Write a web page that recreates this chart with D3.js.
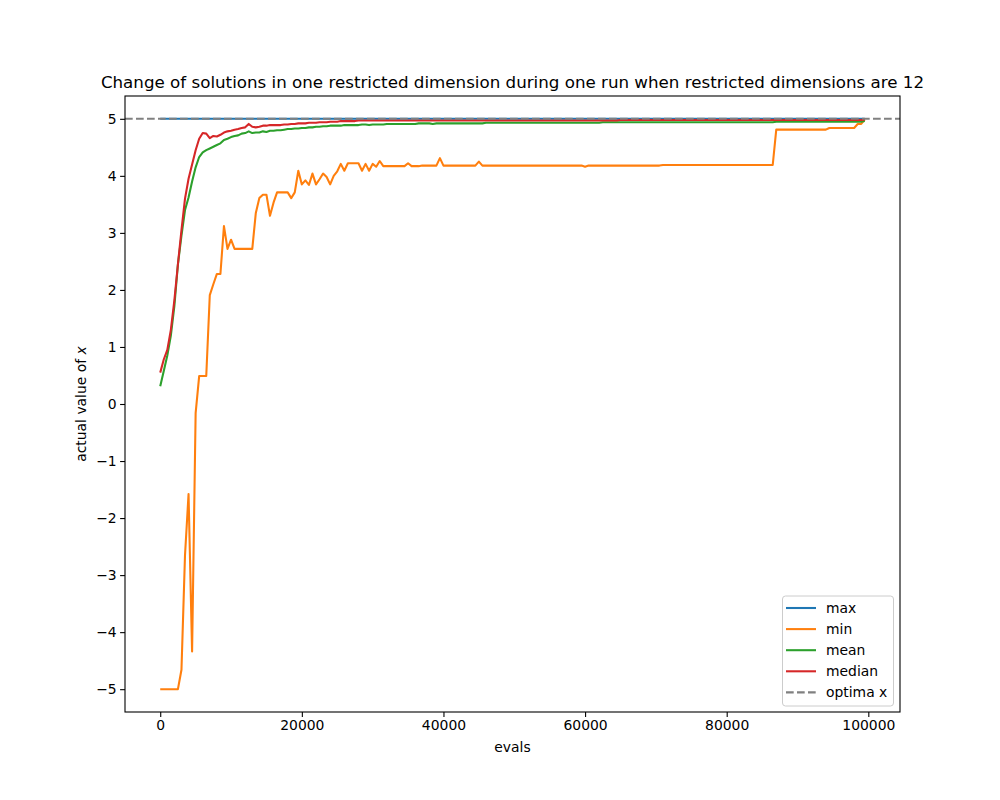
<!DOCTYPE html>
<html>
<head>
<meta charset="utf-8">
<script src="https://cdn.jsdelivr.net/npm/d3@7"></script>
<style>
  body { margin: 0; background: #fff; }
  svg { font-family: "DejaVu Sans", sans-serif; }
</style>
</head>
<body>
<svg id="viz" width="1000" height="800"></svg>
<script>
// evals sampled every 500 steps (200 points)
const evalStep = 500;
const seriesNames = ['max', 'min', 'mean', 'median'];
const seriesColors = ['#1f77b4', '#ff7f0e', '#2ca02c', '#d62728'];
const optimaX = 5;

const maxValues = [
  5, 5, 5, 5, 5, 5, 5, 5, 5, 5, 5, 5, 5, 5, 5, 5, 5, 5, 5, 5,
  5, 5, 5, 5, 5, 5, 5, 5, 5, 5, 5, 5, 5, 5, 5, 5, 5, 5, 5, 5,
  5, 5, 5, 5, 5, 5, 5, 5, 5, 5, 5, 5, 5, 5, 5, 5, 5, 5, 5, 5,
  5, 5, 5, 5, 5, 5, 5, 5, 5, 5, 5, 5, 5, 5, 5, 5, 5, 5, 5, 5,
  5, 5, 5, 5, 5, 5, 5, 5, 5, 5, 5, 5, 5, 5, 5, 5, 5, 5, 5, 5,
  5, 5, 5, 5, 5, 5, 5, 5, 5, 5, 5, 5, 5, 5, 5, 5, 5, 5, 5, 5,
  5, 5, 5, 5, 5, 5, 5, 5, 5, 5, 5, 5, 5, 5, 5, 5, 5, 5, 5, 5,
  5, 5, 5, 5, 5, 5, 5, 5, 5, 5, 5, 5, 5, 5, 5, 5, 5, 5, 5, 5,
  5, 5, 5, 5, 5, 5, 5, 5, 5, 5, 5, 5, 5, 5, 5, 5, 5, 5, 5, 5,
  5, 5, 5, 5, 5, 5, 5, 5, 5, 5, 5, 5, 5, 5, 5, 5, 5, 5, 5, 5
];

const minValues = [
  -5, -5, -5, -5, -5, -5, -4.66, -2.65, -1.58, -4.34,
  -0.16, 0.49, 0.49, 0.49, 1.91, 2.1, 2.28, 2.28, 3.12, 2.72,
  2.88, 2.72, 2.72, 2.72, 2.72, 2.72, 2.72, 3.35, 3.61, 3.67,
  3.67, 3.30, 3.53, 3.71, 3.71, 3.71, 3.71, 3.61, 3.71, 4.09,
  3.85, 3.92, 3.84, 4.04, 3.85, 3.94, 4.04, 3.98, 3.85, 4.00,
  4.08, 4.21, 4.09, 4.22, 4.22, 4.22, 4.22, 4.09, 4.21, 4.09,
  4.21, 4.16, 4.26, 4.17, 4.17, 4.17, 4.17, 4.17, 4.17, 4.17,
  4.22, 4.17, 4.17, 4.17, 4.18, 4.18, 4.18, 4.18, 4.18, 4.31,
  4.18, 4.18, 4.18, 4.18, 4.18, 4.18, 4.18, 4.18, 4.18, 4.18,
  4.25, 4.18, 4.18, 4.18, 4.18, 4.18, 4.18, 4.18, 4.18, 4.18,
  4.18, 4.18, 4.18, 4.18, 4.18, 4.18, 4.18, 4.18, 4.18, 4.18,
  4.18, 4.18, 4.18, 4.18, 4.18, 4.18, 4.18, 4.18, 4.18, 4.18,
  4.16, 4.18, 4.18, 4.18, 4.18, 4.18, 4.18, 4.18, 4.18, 4.18,
  4.18, 4.18, 4.18, 4.18, 4.18, 4.18, 4.18, 4.18, 4.18, 4.18,
  4.18, 4.18, 4.19, 4.19, 4.19, 4.19, 4.19, 4.19, 4.19, 4.19,
  4.19, 4.19, 4.19, 4.19, 4.19, 4.19, 4.19, 4.19, 4.19, 4.19,
  4.19, 4.19, 4.19, 4.19, 4.19, 4.19, 4.19, 4.19, 4.19, 4.19,
  4.19, 4.19, 4.19, 4.19, 4.81, 4.81, 4.81, 4.81, 4.81, 4.81,
  4.81, 4.81, 4.81, 4.81, 4.81, 4.81, 4.81, 4.81, 4.81, 4.84,
  4.84, 4.84, 4.84, 4.84, 4.84, 4.84, 4.84, 4.91, 4.91, 4.99
];

const meanValues = [
  0.31, 0.58, 0.85, 1.2, 1.72, 2.45, 2.95, 3.4, 3.62, 3.9,
  4.15, 4.33, 4.41, 4.45, 4.48, 4.51, 4.54, 4.57, 4.63, 4.65,
  4.68, 4.70, 4.71, 4.74, 4.75, 4.78, 4.75, 4.76, 4.76, 4.78,
  4.77, 4.79, 4.79, 4.80, 4.80, 4.81, 4.82, 4.82, 4.83, 4.83,
  4.84, 4.84, 4.85, 4.85, 4.86, 4.86, 4.87, 4.87, 4.88, 4.88,
  4.88, 4.88, 4.89, 4.89, 4.89, 4.89, 4.89, 4.90, 4.90, 4.89,
  4.90, 4.90, 4.90, 4.90, 4.91, 4.91, 4.91, 4.91, 4.91, 4.91,
  4.91, 4.91, 4.91, 4.92, 4.92, 4.92, 4.92, 4.91, 4.92, 4.92,
  4.92, 4.92, 4.92, 4.92, 4.92, 4.92, 4.92, 4.92, 4.92, 4.92,
  4.92, 4.92, 4.93, 4.93, 4.93, 4.93, 4.93, 4.93, 4.93, 4.93,
  4.93, 4.93, 4.93, 4.93, 4.93, 4.93, 4.93, 4.93, 4.93, 4.93,
  4.93, 4.93, 4.93, 4.93, 4.93, 4.93, 4.93, 4.93, 4.93, 4.93,
  4.93, 4.93, 4.93, 4.93, 4.93, 4.94, 4.94, 4.94, 4.94, 4.94,
  4.94, 4.94, 4.94, 4.94, 4.94, 4.94, 4.94, 4.94, 4.94, 4.94,
  4.94, 4.94, 4.94, 4.94, 4.94, 4.94, 4.94, 4.94, 4.94, 4.94,
  4.94, 4.94, 4.94, 4.94, 4.94, 4.94, 4.94, 4.94, 4.94, 4.94,
  4.94, 4.94, 4.94, 4.94, 4.94, 4.94, 4.94, 4.94, 4.94, 4.94,
  4.94, 4.94, 4.94, 4.94, 4.95, 4.95, 4.95, 4.95, 4.95, 4.95,
  4.95, 4.95, 4.95, 4.95, 4.95, 4.95, 4.95, 4.95, 4.95, 4.95,
  4.95, 4.95, 4.95, 4.95, 4.95, 4.95, 4.95, 4.95, 4.95, 4.96
];

const medianValues = [
  0.55, 0.78, 0.95, 1.3, 1.82, 2.45, 3.05, 3.6, 3.95, 4.2,
  4.45, 4.65, 4.75, 4.74, 4.66, 4.70, 4.69, 4.72, 4.76, 4.78,
  4.79, 4.81, 4.82, 4.84, 4.85, 4.91, 4.86, 4.85, 4.86, 4.88,
  4.88, 4.89, 4.89, 4.89, 4.89, 4.90, 4.90, 4.91, 4.91, 4.92,
  4.92, 4.92, 4.93, 4.93, 4.93, 4.94, 4.94, 4.94, 4.95, 4.95,
  4.95, 4.96, 4.96, 4.96, 4.96, 4.96, 4.97, 4.97, 4.97, 4.97,
  4.97, 4.97, 4.97, 4.97, 4.97, 4.97, 4.97, 4.97, 4.97, 4.97,
  4.97, 4.97, 4.97, 4.97, 4.97, 4.97, 4.97, 4.97, 4.97, 4.97,
  4.97, 4.97, 4.97, 4.97, 4.97, 4.97, 4.97, 4.97, 4.97, 4.97,
  4.97, 4.97, 4.97, 4.97, 4.97, 4.97, 4.97, 4.97, 4.97, 4.97,
  4.97, 4.97, 4.97, 4.97, 4.97, 4.97, 4.97, 4.97, 4.97, 4.97,
  4.97, 4.97, 4.97, 4.97, 4.97, 4.97, 4.97, 4.97, 4.97, 4.97,
  4.97, 4.97, 4.97, 4.97, 4.97, 4.97, 4.97, 4.97, 4.97, 4.97,
  4.98, 4.98, 4.98, 4.98, 4.98, 4.98, 4.98, 4.98, 4.98, 4.98,
  4.98, 4.98, 4.98, 4.98, 4.98, 4.98, 4.98, 4.98, 4.98, 4.98,
  4.98, 4.98, 4.98, 4.98, 4.98, 4.98, 4.98, 4.98, 4.98, 4.98,
  4.98, 4.98, 4.98, 4.98, 4.98, 4.98, 4.98, 4.98, 4.98, 4.98,
  4.98, 4.98, 4.98, 4.98, 4.98, 4.98, 4.98, 4.98, 4.98, 4.98,
  4.98, 4.98, 4.98, 4.98, 4.98, 4.98, 4.98, 4.98, 4.98, 4.98,
  4.98, 4.98, 4.98, 4.98, 4.98, 4.98, 4.98, 4.98, 4.98, 4.99
];

const xTicks = [0, 20000, 40000, 60000, 80000, 100000];
const yTicks = [-5, -4, -3, -2, -1, 0, 1, 2, 3, 4, 5];
const legendLabels = ['max', 'min', 'mean', 'median', 'optima x'];

document.addEventListener('DOMContentLoaded', () => {
  const svg = d3.select('#viz');
  const margin = { left: 125, right: 900, top: 96, bottom: 712 };

  const allSeries = [maxValues, minValues, meanValues, medianValues];
  const evals = maxValues.map((d, i) => i * evalStep);

  const x = d3.scaleLinear().domain([-4975, 104475]).range([margin.left, margin.right]);
  const y = d3.scaleLinear().domain([-5.4, 5.4]).range([margin.bottom, margin.top]);

  // Axes
  const xAxis = svg.append('g').attr('transform', `translate(0,${margin.bottom})`)
    .call(d3.axisBottom(x).tickValues(xTicks).tickFormat(d3.format('d')).tickSizeOuter(0).tickSize(4.9).tickPadding(3.5));
  const yAxis = svg.append('g').attr('transform', `translate(${margin.left},0)`)
    .call(d3.axisLeft(y).tickValues(yTicks).tickFormat(d => d < 0 ? '\u2212' + Math.abs(d) : d).tickSizeOuter(0).tickSize(4.9).tickPadding(3.5));

  [xAxis, yAxis].forEach(a => {
    a.select('.domain').remove();
    a.selectAll('line').attr('stroke', '#000').attr('stroke-width', 1.1);
    a.selectAll('text').style('font-size', '13.9px').style('font-family', '"DejaVu Sans"').attr('fill', '#000');
  });

  // Series lines
  const g = svg.append('g');
  const line = d3.line().x((d, i) => x(evals[i])).y(d => y(d));
  allSeries.forEach((vals, k) => {
    g.append('path').datum(vals).attr('d', line).attr('fill', 'none')
      .attr('stroke', seriesColors[k]).attr('stroke-width', 2.08).attr('stroke-linejoin', 'round');
  });

  // Optima horizontal line
  g.append('line').attr('x1', margin.left).attr('x2', margin.right)
    .attr('y1', y(optimaX)).attr('y2', y(optimaX))
    .attr('stroke', '#808080').attr('stroke-width', 2.08).attr('stroke-dasharray', '7.7,3.3');

  // Frame
  svg.append('rect').attr('x', margin.left).attr('y', margin.top)
    .attr('width', margin.right - margin.left).attr('height', margin.bottom - margin.top)
    .attr('fill', 'none').attr('stroke', '#000').attr('stroke-width', 1.1);

  // Title and labels
  svg.append('text').attr('x', (margin.left + margin.right) / 2).attr('y', 88)
    .attr('text-anchor', 'middle').style('font-size', '16.7px')
    .text('Change of solutions in one restricted dimension during one run when restricted dimensions are 12');

  svg.append('text').attr('x', (margin.left + margin.right) / 2).attr('y', 752)
    .attr('text-anchor', 'middle').style('font-size', '13.9px').text('evals');

  const yl = svg.append('text').attr('transform', `translate(86,${(margin.top + margin.bottom) / 2}) rotate(-90)`)
    .attr('text-anchor', 'middle').style('font-size', '13.9px');
  yl.append('tspan').text('actual value of ');
  yl.append('tspan').style('font-style', 'italic').text('x');

  // Legend
  const lg = svg.append('g').attr('transform', 'translate(782.5,596)');
  lg.append('rect').attr('width', 111).attr('height', 110).attr('rx', 3)
    .attr('fill', '#fff').attr('fill-opacity', 0.8).attr('stroke', '#cccccc').attr('stroke-width', 1);
  legendLabels.forEach((lab, i) => {
    const ry = 12 + i * 21.1;
    const isOptima = i === 4;
    lg.append('line').attr('x1', 3.5).attr('x2', 33.5).attr('y1', ry).attr('y2', ry)
      .attr('stroke', isOptima ? '#808080' : seriesColors[i]).attr('stroke-width', 2.08)
      .attr('stroke-dasharray', isOptima ? '7.7,3.3' : null);
    lg.append('text').attr('x', 43.5).attr('y', ry + 5).style('font-size', '13.9px').text(lab);
  });
});
</script>
</body>
</html>
